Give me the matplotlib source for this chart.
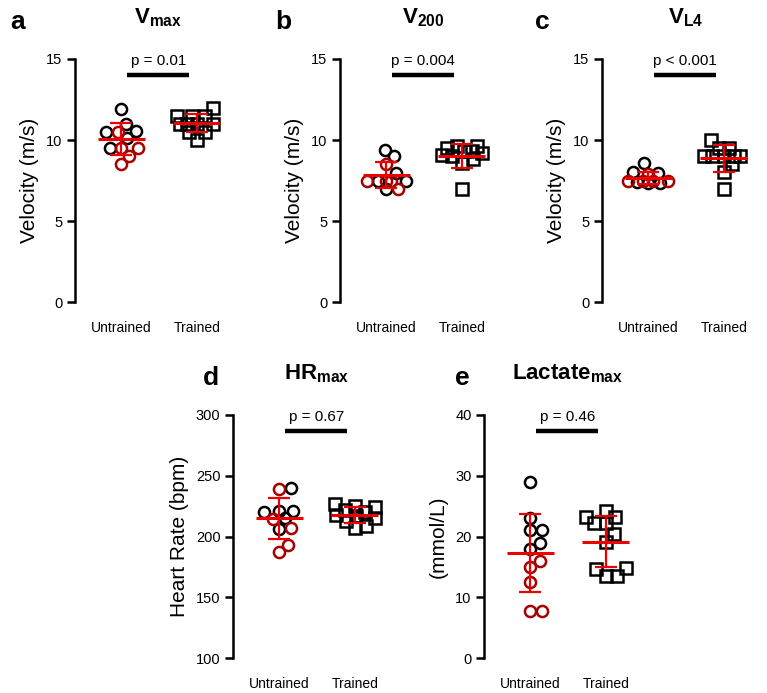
import numpy as np
import matplotlib.pyplot as plt

plt.rcParams['font.family'] = ['Liberation Sans', 'DejaVu Sans']
plt.rcParams['mathtext.fontset'] = 'custom'
plt.rcParams['mathtext.rm'] = 'Liberation Sans'
plt.rcParams['mathtext.bf'] = 'Liberation Sans:bold'

groups = ['Untrained', 'Trained']

# a - Vmax (m/s)
vmax_untr_black = [11.9, 11.0, 10.55, 10.5, 10.1, 9.5]
vmax_untr_red = [10.5, 9.5, 9.5, 9.0, 8.5]
vmax_trained = [12.0, 11.5, 11.5, 11.5, 11.0, 11.0, 11.0, 11.0, 10.5, 10.5, 10.0]

# b - V200 (m/s)
v200_untr_black = [9.4, 9.0, 7.95, 7.45, 7.45, 6.95]
v200_untr_red = [8.5, 7.45, 7.45, 7.45, 6.95]
v200_trained = [9.6, 9.6, 9.5, 9.3, 9.3, 9.2, 9.1, 9.0, 8.8, 8.6, 7.0]

# c - VL4 (m/s)
vl4_untr_black = [8.55, 8.0, 7.95, 7.4, 7.35, 7.35]
vl4_untr_red = [7.9, 7.45, 7.45, 7.45, 7.45]
vl4_trained = [10.0, 9.5, 9.5, 9.0, 9.0, 9.0, 9.0, 9.0, 8.5, 8.0, 7.0]

# d - HRmax (bpm)
hr_untr_black = [240, 221, 221, 220, 215, 206]
hr_untr_red = [239, 214, 207, 193, 187]
hr_trained = [227, 225, 224, 222, 220, 218, 217, 215, 213, 209, 207]

# e - Lactate max (mmol/L)
lac_untr_black = [29, 23, 21, 21, 19, 18]
lac_untr_red = [16, 15, 12.5, 7.8, 7.8]
lac_trained = [24.2, 23.2, 23.2, 22.2, 22.2, 20.4, 19.1, 14.8, 14.6, 13.5, 13.5]

p_texts = ['p = 0.01', 'p = 0.004', 'p < 0.001', 'p = 0.67', 'p = 0.46']

DARKRED = '#a60000'
RED = '#ee0000'
W, H = 767, 693
AX_W, AX_H = 167, 243
XLIM = (-0.613, 1.6)


def swarm(y_px, d=11.5, maxw=20.0):
    # beeswarm in pixel space, kept within +-maxw (overlap allowed if full)
    xs = np.zeros(len(y_px))
    placed = []
    for i in np.argsort(y_px):
        y = y_px[i]
        cands = [0.0]
        for px, py in placed:
            dy = abs(py - y)
            if dy < d:
                dx = np.sqrt(d * d - dy * dy)
                cands += [px + dx, px - dx]
        cands = sorted([c for c in cands if abs(c) <= maxw], key=abs)
        ok = [c for c in cands
              if all((c - px) ** 2 + (y - py) ** 2 >= d * d - 1e-6 for px, py in placed)]
        if ok:
            xs[i] = ok[0]
        else:
            grid = sorted(np.linspace(-maxw, maxw, 9), key=abs)
            xs[i] = max(grid, key=lambda c: min((c - px) ** 2 + (y - py) ** 2
                                                for px, py in placed))
        placed.append((xs[i], y))
    return xs


fig = plt.figure(figsize=(W / 100, H / 100), dpi=100)


def panel(left, top, letter, letter_dx, title, ylabel, ylim, yticks,
          untr_black, untr_red, trained, ptext):
    ax = fig.add_axes([left / W, 1 - (top + AX_H) / H, AX_W / W, AX_H / H])
    ax.set_xlim(*XLIM)
    ax.set_ylim(*ylim)
    ppu_y = AX_H / (ylim[1] - ylim[0])
    ppu_x = AX_W / (XLIM[1] - XLIM[0])

    untr = np.array(untr_black + untr_red, dtype=float)
    cols = ['black'] * len(untr_black) + [DARKRED] * len(untr_red)
    xs = swarm(untr * ppu_y) / ppu_x
    for x, y, c in zip(xs, untr, cols):
        ax.plot(0 + x, y, 'o', ms=8, mfc='none', mec=c, mew=1.8, zorder=3)

    tr = np.array(trained, dtype=float)
    xs = swarm(tr * ppu_y) / ppu_x
    ax.plot(1 + xs, tr, 's', ms=8, mfc='none', mec='black', mew=1.8, zorder=3)

    for i, vals in enumerate([untr, tr]):
        m, sd = vals.mean(), vals.std(ddof=1)
        ax.errorbar(i, m, yerr=sd, color=RED, capsize=8, elinewidth=1.6,
                    capthick=1.6, zorder=4)
        ax.hlines(m, i - 0.31, i + 0.31, color=RED, lw=2.2, zorder=4)

    # significance bar
    ax.plot([0.08, 0.9], [0.935, 0.935], color='black', lw=3.2,
            transform=ax.get_xaxis_transform(), clip_on=False, solid_capstyle='butt')
    ax.text(0.49, 0.99, ptext, transform=ax.get_xaxis_transform(),
            ha='center', va='center', fontsize=11)

    for s in ['top', 'right', 'bottom']:
        ax.spines[s].set_visible(False)
    ax.spines['left'].set_linewidth(1.8)
    ax.set_yticks(yticks)
    ax.tick_params(axis='y', length=6, width=1.8, labelsize=10.5, pad=3)
    ax.set_xticks([0, 1])
    ax.set_xticklabels(groups, fontsize=10)
    ax.tick_params(axis='x', length=0, pad=14)
    ax.set_ylabel(ylabel, fontsize=15, labelpad=5)

    ax.text(0.5, 1 + 36 / AX_H, title, transform=ax.transAxes, ha='center',
            va='baseline', fontsize=16, fontweight='bold')
    fig.text((left - letter_dx) / W, 1 - (top - 30) / H, letter, fontsize=19,
             fontweight='bold', va='baseline', ha='left')
    return ax


panel(75, 59, 'a', 65, r'$\mathbf{V_{max}}$', 'Velocity (m/s)', (0, 15), [0, 5, 10, 15],
      vmax_untr_black, vmax_untr_red, vmax_trained, p_texts[0])
panel(340, 59, 'b', 65, r'$\mathbf{V_{200}}$', 'Velocity (m/s)', (0, 15), [0, 5, 10, 15],
      v200_untr_black, v200_untr_red, v200_trained, p_texts[1])
panel(602, 59, 'c', 67, r'$\mathbf{V_{L4}}$', 'Velocity (m/s)', (0, 15), [0, 5, 10, 15],
      vl4_untr_black, vl4_untr_red, vl4_trained, p_texts[2])
panel(233, 415, 'd', 30, r'$\mathbf{HR_{max}}$', 'Heart Rate (bpm)', (100, 300),
      [100, 150, 200, 250, 300], hr_untr_black, hr_untr_red, hr_trained, p_texts[3])
panel(484, 415, 'e', 29, r'$\mathbf{Lactate_{max}}$', '(mmol/L)', (0, 40),
      [0, 10, 20, 30, 40], lac_untr_black, lac_untr_red, lac_trained, p_texts[4])

fig.savefig('out.png', dpi=100)
